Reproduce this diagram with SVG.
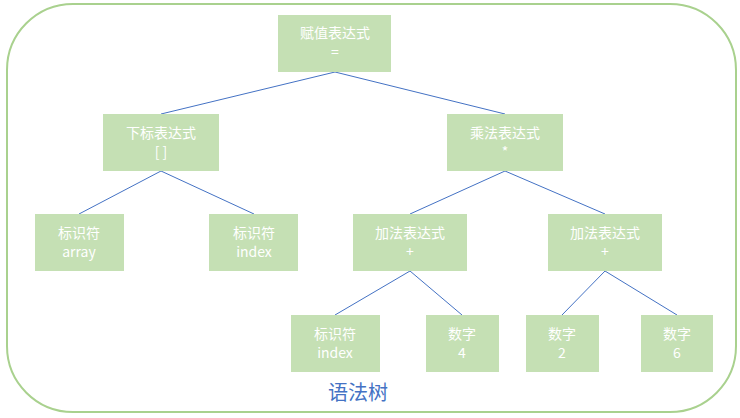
<svg xmlns="http://www.w3.org/2000/svg" width="740" height="418" viewBox="0 0 740 418">
<style>
.n{fill:#C5E0B4}
.t{fill:#FFFFFF;font-family:"Noto Sans CJK SC","Noto Sans",sans-serif;font-size:14px;text-anchor:middle}
.e{stroke:#4472C4;stroke-width:1;fill:none}
</style>
<rect x="7" y="4" width="729" height="408" rx="66" ry="66" fill="#FFFFFF" stroke="#A9D18E" stroke-width="2"/>
<g id="connectors">
<line class="e" x1="335" y1="72" x2="161" y2="114"/>
<line class="e" x1="335" y1="72" x2="505" y2="114"/>
<line class="e" x1="161" y1="171" x2="79" y2="214"/>
<line class="e" x1="161" y1="171" x2="254" y2="214"/>
<line class="e" x1="505" y1="171" x2="410" y2="214"/>
<line class="e" x1="505" y1="171" x2="605" y2="214"/>
<line class="e" x1="410" y1="271" x2="335" y2="315"/>
<line class="e" x1="410" y1="271" x2="462" y2="315"/>
<line class="e" x1="605" y1="271" x2="562" y2="315"/>
<line class="e" x1="605" y1="271" x2="677" y2="315"/>
</g>
<g id="root"><rect class="n" x="278" y="15" width="113" height="57"/><text class="t" x="335" y="38">赋值表达式</text><text class="t" x="335" y="57">=</text></g>
<g id="subscript"><rect class="n" x="103" y="114" width="116" height="57"/><text class="t" x="161" y="138">下标表达式</text><text class="t" x="161" y="157">[ ]</text></g>
<g id="mul"><rect class="n" x="447" y="114" width="116" height="57"/><text class="t" x="505" y="138">乘法表达式</text><text class="t" x="505" y="157">*</text></g>
<g id="id-array"><rect class="n" x="35" y="214" width="89" height="57"/><text class="t" x="79" y="238">标识符</text><text class="t" x="79" y="257">array</text></g>
<g id="id-index1"><rect class="n" x="209" y="214" width="89" height="57"/><text class="t" x="254" y="238">标识符</text><text class="t" x="254" y="257">index</text></g>
<g id="add1"><rect class="n" x="353" y="214" width="114" height="57"/><text class="t" x="410" y="238">加法表达式</text><text class="t" x="410" y="257">+</text></g>
<g id="add2"><rect class="n" x="548" y="214" width="114" height="57"/><text class="t" x="605" y="238">加法表达式</text><text class="t" x="605" y="257">+</text></g>
<g id="id-index2"><rect class="n" x="291" y="315" width="89" height="57"/><text class="t" x="335" y="339">标识符</text><text class="t" x="335" y="358">index</text></g>
<g id="num4"><rect class="n" x="426" y="315" width="73" height="57"/><text class="t" x="462" y="339">数字</text><text class="t" x="462" y="358">4</text></g>
<g id="num2"><rect class="n" x="526" y="315" width="73" height="57"/><text class="t" x="562" y="339">数字</text><text class="t" x="562" y="358">2</text></g>
<g id="num6"><rect class="n" x="641" y="315" width="72" height="57"/><text class="t" x="677" y="339">数字</text><text class="t" x="677" y="358">6</text></g>
<text x="358" y="400" fill="#4472C4" font-family="'Noto Sans CJK SC',sans-serif" font-size="20" text-anchor="middle">语法树</text>
</svg>
